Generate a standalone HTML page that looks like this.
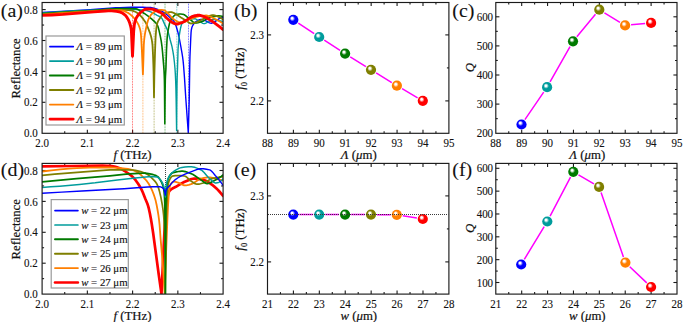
<!DOCTYPE html>
<html><head><meta charset="utf-8"><style>html,body{margin:0;padding:0;background:#fff;width:700px;height:322px;overflow:hidden}svg{display:block}</style></head>
<body>
<svg width="700" height="322" viewBox="0 0 700 322">
<defs>
<radialGradient id="g0" cx="0.46" cy="0.44" r="0.6" fx="0.37" fy="0.34"><stop offset="0" stop-color="#ffffff"/><stop offset="0.14" stop-color="#ffffff"/><stop offset="0.44" stop-color="#0000ff"/><stop offset="1" stop-color="#0000ff"/></radialGradient>
<radialGradient id="g1" cx="0.46" cy="0.44" r="0.6" fx="0.37" fy="0.34"><stop offset="0" stop-color="#ffffff"/><stop offset="0.14" stop-color="#ffffff"/><stop offset="0.44" stop-color="#009c9c"/><stop offset="1" stop-color="#009c9c"/></radialGradient>
<radialGradient id="g2" cx="0.46" cy="0.44" r="0.6" fx="0.37" fy="0.34"><stop offset="0" stop-color="#ffffff"/><stop offset="0.14" stop-color="#ffffff"/><stop offset="0.44" stop-color="#007a00"/><stop offset="1" stop-color="#007a00"/></radialGradient>
<radialGradient id="g3" cx="0.46" cy="0.44" r="0.6" fx="0.37" fy="0.34"><stop offset="0" stop-color="#ffffff"/><stop offset="0.14" stop-color="#ffffff"/><stop offset="0.44" stop-color="#7f7f00"/><stop offset="1" stop-color="#7f7f00"/></radialGradient>
<radialGradient id="g4" cx="0.46" cy="0.44" r="0.6" fx="0.37" fy="0.34"><stop offset="0" stop-color="#ffffff"/><stop offset="0.14" stop-color="#ffffff"/><stop offset="0.44" stop-color="#ff7f00"/><stop offset="1" stop-color="#ff7f00"/></radialGradient>
<radialGradient id="g5" cx="0.46" cy="0.44" r="0.6" fx="0.37" fy="0.34"><stop offset="0" stop-color="#ffffff"/><stop offset="0.14" stop-color="#ffffff"/><stop offset="0.44" stop-color="#ff0000"/><stop offset="1" stop-color="#ff0000"/></radialGradient>
<clipPath id="ca"><rect x="42.1" y="2.5" width="181" height="130.8"/></clipPath>
<clipPath id="cd"><rect x="42.1" y="163.4" width="181" height="130.7"/></clipPath>
</defs>
<style>text{font-family:"Liberation Serif",serif;fill:#111;stroke:#111;stroke-width:0.3px}.tk{font-size:12.2px;stroke-width:0.12px}.ti{font-size:12.8px;stroke-width:0.2px}.lg{font-size:10.8px;stroke-width:0.15px}.pl{font-size:18.5px;stroke-width:0.1px}</style>
<rect width="700" height="322" fill="#fff"/>
<text transform="translate(42.10,146.60) scale(0.9,1)" class="tk" text-anchor="middle">2.0</text>
<line x1="64.72" y1="133.3" x2="64.72" y2="131.30" stroke="#1a1a1a" stroke-width="1.1"/>
<line x1="64.72" y1="2.5" x2="64.72" y2="4.50" stroke="#1a1a1a" stroke-width="1.1"/>
<line x1="87.35" y1="133.3" x2="87.35" y2="129.70" stroke="#1a1a1a" stroke-width="1.1"/>
<line x1="87.35" y1="2.5" x2="87.35" y2="6.10" stroke="#1a1a1a" stroke-width="1.1"/>
<text transform="translate(87.35,146.60) scale(0.9,1)" class="tk" text-anchor="middle">2.1</text>
<line x1="109.97" y1="133.3" x2="109.97" y2="131.30" stroke="#1a1a1a" stroke-width="1.1"/>
<line x1="109.97" y1="2.5" x2="109.97" y2="4.50" stroke="#1a1a1a" stroke-width="1.1"/>
<line x1="132.60" y1="133.3" x2="132.60" y2="129.70" stroke="#1a1a1a" stroke-width="1.1"/>
<line x1="132.60" y1="2.5" x2="132.60" y2="6.10" stroke="#1a1a1a" stroke-width="1.1"/>
<text transform="translate(132.60,146.60) scale(0.9,1)" class="tk" text-anchor="middle">2.2</text>
<line x1="155.23" y1="133.3" x2="155.23" y2="131.30" stroke="#1a1a1a" stroke-width="1.1"/>
<line x1="155.23" y1="2.5" x2="155.23" y2="4.50" stroke="#1a1a1a" stroke-width="1.1"/>
<line x1="177.85" y1="133.3" x2="177.85" y2="129.70" stroke="#1a1a1a" stroke-width="1.1"/>
<line x1="177.85" y1="2.5" x2="177.85" y2="6.10" stroke="#1a1a1a" stroke-width="1.1"/>
<text transform="translate(177.85,146.60) scale(0.9,1)" class="tk" text-anchor="middle">2.3</text>
<line x1="200.48" y1="133.3" x2="200.48" y2="131.30" stroke="#1a1a1a" stroke-width="1.1"/>
<line x1="200.48" y1="2.5" x2="200.48" y2="4.50" stroke="#1a1a1a" stroke-width="1.1"/>
<text transform="translate(223.10,146.60) scale(0.9,1)" class="tk" text-anchor="middle">2.4</text>
<text transform="translate(37.80,137.30) scale(0.9,1)" class="tk" text-anchor="end">0.0</text>
<line x1="42.1" y1="117.75" x2="44.10" y2="117.75" stroke="#1a1a1a" stroke-width="1.1"/>
<line x1="223.1" y1="117.75" x2="221.10" y2="117.75" stroke="#1a1a1a" stroke-width="1.1"/>
<line x1="42.1" y1="102.30" x2="45.70" y2="102.30" stroke="#1a1a1a" stroke-width="1.1"/>
<line x1="223.1" y1="102.30" x2="219.50" y2="102.30" stroke="#1a1a1a" stroke-width="1.1"/>
<text transform="translate(37.80,106.40) scale(0.9,1)" class="tk" text-anchor="end">0.2</text>
<line x1="42.1" y1="86.85" x2="44.10" y2="86.85" stroke="#1a1a1a" stroke-width="1.1"/>
<line x1="223.1" y1="86.85" x2="221.10" y2="86.85" stroke="#1a1a1a" stroke-width="1.1"/>
<line x1="42.1" y1="71.40" x2="45.70" y2="71.40" stroke="#1a1a1a" stroke-width="1.1"/>
<line x1="223.1" y1="71.40" x2="219.50" y2="71.40" stroke="#1a1a1a" stroke-width="1.1"/>
<text transform="translate(37.80,75.50) scale(0.9,1)" class="tk" text-anchor="end">0.4</text>
<line x1="42.1" y1="55.95" x2="44.10" y2="55.95" stroke="#1a1a1a" stroke-width="1.1"/>
<line x1="223.1" y1="55.95" x2="221.10" y2="55.95" stroke="#1a1a1a" stroke-width="1.1"/>
<line x1="42.1" y1="40.50" x2="45.70" y2="40.50" stroke="#1a1a1a" stroke-width="1.1"/>
<line x1="223.1" y1="40.50" x2="219.50" y2="40.50" stroke="#1a1a1a" stroke-width="1.1"/>
<text transform="translate(37.80,44.60) scale(0.9,1)" class="tk" text-anchor="end">0.6</text>
<line x1="42.1" y1="25.05" x2="44.10" y2="25.05" stroke="#1a1a1a" stroke-width="1.1"/>
<line x1="223.1" y1="25.05" x2="221.10" y2="25.05" stroke="#1a1a1a" stroke-width="1.1"/>
<line x1="42.1" y1="9.60" x2="45.70" y2="9.60" stroke="#1a1a1a" stroke-width="1.1"/>
<line x1="223.1" y1="9.60" x2="219.50" y2="9.60" stroke="#1a1a1a" stroke-width="1.1"/>
<text transform="translate(37.80,13.70) scale(0.9,1)" class="tk" text-anchor="end">0.8</text>
<g clip-path="url(#ca)">
<line x1="188.5" y1="2.5" x2="188.5" y2="133.3" stroke="#0000ff" stroke-width="0.9" stroke-dasharray="0.8 0.8" opacity="0.7"/>
<line x1="176.8" y1="2.5" x2="176.8" y2="133.3" stroke="#009c9c" stroke-width="0.9" stroke-dasharray="0.8 0.8" opacity="0.7"/>
<line x1="165.0" y1="2.5" x2="165.0" y2="133.3" stroke="#007a00" stroke-width="0.9" stroke-dasharray="0.8 0.8" opacity="0.7"/>
<line x1="154.1" y1="2.5" x2="154.1" y2="133.3" stroke="#7f7f00" stroke-width="0.9" stroke-dasharray="0.8 0.8" opacity="0.7"/>
<line x1="142.9" y1="2.5" x2="142.9" y2="133.3" stroke="#ff7f00" stroke-width="0.9" stroke-dasharray="0.8 0.8" opacity="0.7"/>
<line x1="132.5" y1="2.5" x2="132.5" y2="133.3" stroke="#ff0000" stroke-width="0.9" stroke-dasharray="0.8 0.8" opacity="0.7"/>
<path d="M42.10,12.39 L64.80,11.15 L90.10,9.62 L96.35,9.20 L109.70,8.15 L115.75,7.78 L119.85,7.60 L131.15,7.30 L137.55,7.21 L142.55,7.22 L146.80,7.35 L150.65,7.55 L152.60,7.87 L154.80,8.44 L158.45,9.66 L160.70,10.66 L162.20,11.47 L163.85,12.48 L165.60,13.64 L166.70,14.49 L170.25,17.73 L172.05,19.28 L172.85,20.06 L173.50,20.82 L174.10,21.65 L175.00,23.38 L175.70,25.12 L176.45,27.28 L177.35,30.17 L177.95,32.38 L179.20,37.97 L180.80,46.39 L181.95,52.79 L182.55,56.58 L183.10,60.87 L183.55,65.52 L184.45,77.08 L185.75,97.73 L188.30,133.20 L189.25,99.35 L189.75,65.03 L189.95,56.70 L190.75,38.32 L191.05,32.64 L191.30,30.00 L191.85,27.61 L192.35,26.23 L193.00,25.00 L193.90,23.59 L194.80,22.50 L195.65,21.74 L196.75,21.04 L198.15,20.27 L199.35,19.78 L200.20,19.57 L201.00,19.50 L201.80,19.56 L202.70,19.77 L203.75,20.12 L206.45,21.18 L208.90,22.54 L209.70,22.92 L210.55,23.16 L211.30,23.19 L211.95,23.07 L212.60,22.86 L214.20,22.05 L216.45,20.72 L218.70,18.93 L219.65,18.34 L221.60,17.72 L222.40,17.56 L223.10,17.50" fill="none" stroke="#0000ff" stroke-width="1.4" stroke-linejoin="round" stroke-linecap="round" />
<path d="M42.10,12.99 L54.00,12.10 L64.95,11.37 L75.30,10.79 L85.15,10.34 L102.60,9.78 L115.80,9.45 L127.70,9.30 L133.95,9.38 L139.05,9.70 L144.75,10.27 L146.45,10.55 L148.35,11.06 L150.60,11.82 L152.45,12.68 L157.15,15.38 L159.75,16.72 L160.55,17.23 L161.25,17.78 L161.95,18.49 L162.60,19.61 L164.45,23.89 L166.95,28.90 L168.05,31.73 L168.70,34.01 L170.20,40.00 L171.45,44.49 L172.00,46.70 L172.95,51.57 L173.70,56.41 L174.40,62.29 L175.00,68.80 L175.35,74.17 L175.65,80.83 L175.90,88.42 L176.10,97.61 L176.60,130.50 L176.75,105.69 L177.00,84.86 L177.15,78.15 L177.50,68.80 L178.05,49.54 L178.65,41.30 L179.35,35.06 L179.85,31.91 L180.60,27.98 L181.10,25.86 L181.60,24.32 L182.15,23.23 L182.70,22.35 L183.30,21.60 L183.90,21.07 L185.30,20.21 L186.60,19.59 L187.85,19.18 L189.00,19.00 L193.80,18.81 L194.85,18.81 L195.45,18.92 L196.00,19.14 L196.65,19.50 L202.15,23.02 L203.00,23.41 L203.80,23.59 L204.75,23.51 L205.85,23.14 L209.50,21.25 L211.70,19.96 L212.40,19.66 L213.05,19.51 L213.80,19.52 L214.65,19.64 L217.85,20.47 L223.10,21.48" fill="none" stroke="#009c9c" stroke-width="1.4" stroke-linejoin="round" stroke-linecap="round" />
<path d="M42.10,13.59 L66.10,12.15 L92.45,10.47 L108.05,9.15 L113.80,8.77 L117.60,8.63 L121.40,8.60 L129.20,8.66 L136.05,8.80 L136.95,8.99 L137.95,9.45 L140.40,11.06 L144.30,13.45 L146.40,14.87 L148.50,16.40 L150.30,17.80 L151.85,19.12 L154.80,21.89 L155.90,23.08 L157.10,24.79 L157.55,25.60 L157.90,26.42 L158.35,27.80 L158.90,29.87 L160.35,36.33 L161.20,40.92 L161.90,45.78 L162.55,52.08 L163.75,66.37 L164.00,70.12 L164.25,75.57 L164.40,80.00 L164.50,86.21 L164.80,123.80 L165.10,91.97 L165.30,80.00 L165.45,76.26 L165.90,68.80 L166.45,51.21 L167.00,40.17 L167.25,36.59 L167.55,33.77 L167.85,31.86 L168.95,25.96 L169.40,23.88 L169.75,22.64 L170.40,20.99 L171.05,19.65 L171.75,18.49 L172.50,17.50 L173.90,15.92 L174.95,15.00 L175.50,14.67 L176.00,14.50 L177.65,14.19 L179.15,14.03 L180.65,14.02 L182.35,14.20 L183.40,14.39 L184.30,14.78 L185.55,15.63 L188.15,17.85 L189.70,19.03 L193.05,21.96 L194.25,22.70 L194.80,22.90 L195.35,23.00 L196.60,22.93 L198.05,22.68 L199.60,22.26 L202.30,21.40 L203.95,20.65 L207.40,18.63 L208.85,17.91 L209.90,17.53 L213.30,16.65 L216.10,16.11 L218.50,15.90 L220.65,16.02 L223.10,16.48" fill="none" stroke="#007a00" stroke-width="1.6" stroke-linejoin="round" stroke-linecap="round" />
<path d="M42.10,14.19 L60.10,12.88 L78.05,11.76 L107.30,10.16 L112.75,9.93 L117.55,9.82 L121.10,9.81 L124.35,9.88 L128.25,10.08 L130.80,10.29 L132.40,10.67 L134.15,11.29 L136.20,12.20 L137.40,12.96 L138.35,13.73 L139.45,14.75 L141.05,16.36 L142.00,17.42 L143.10,18.82 L144.25,20.42 L145.15,21.78 L145.95,23.14 L146.95,25.21 L149.75,32.31 L151.00,36.33 L151.65,39.04 L152.15,42.05 L152.50,45.05 L153.00,54.86 L153.35,64.33 L153.60,73.52 L154.00,97.30 L154.35,75.73 L155.10,49.78 L155.60,37.22 L156.05,31.12 L156.40,27.79 L156.75,25.35 L157.00,24.20 L157.55,22.46 L158.10,21.12 L158.75,19.89 L160.85,16.70 L161.65,15.65 L162.65,14.74 L163.80,13.86 L164.75,13.28 L165.65,12.90 L167.65,12.45 L169.45,12.18 L171.10,12.10 L172.05,12.25 L173.50,12.83 L176.75,14.62 L180.95,17.47 L186.70,20.99 L189.25,22.87 L190.10,23.32 L190.85,23.49 L191.95,23.45 L193.25,23.23 L196.05,22.49 L196.95,22.18 L198.80,21.32 L203.00,18.97 L208.25,16.48 L210.35,15.66 L211.30,15.40 L212.15,15.25 L213.35,15.21 L214.65,15.40 L216.05,15.80 L218.30,16.61 L219.35,17.10 L220.50,17.76 L221.75,18.60 L223.10,19.62" fill="none" stroke="#7f7f00" stroke-width="1.8" stroke-linejoin="round" stroke-linecap="round" />
<path d="M42.10,14.79 L59.55,13.47 L76.90,12.34 L106.35,10.70 L116.20,10.34 L120.30,10.31 L121.25,10.39 L122.20,10.56 L123.50,10.92 L124.90,11.44 L126.65,12.21 L128.55,13.14 L129.35,13.68 L130.20,14.36 L132.95,16.92 L134.65,18.75 L136.15,20.69 L137.50,22.86 L138.80,25.47 L139.60,27.56 L140.25,29.87 L140.60,31.66 L140.85,33.41 L141.25,38.80 L141.90,50.97 L142.90,74.40 L143.40,60.00 L143.80,45.00 L144.05,41.35 L144.30,38.74 L144.85,34.65 L145.20,32.51 L146.40,26.66 L147.20,23.17 L147.85,20.89 L148.60,19.00 L149.75,16.69 L150.90,14.97 L151.65,14.12 L152.55,13.24 L153.40,12.53 L154.25,11.93 L155.20,11.39 L157.20,10.51 L158.35,10.10 L159.35,9.87 L160.20,9.80 L161.65,9.87 L163.35,10.09 L164.40,10.32 L165.15,10.76 L166.05,11.54 L169.00,14.48 L172.05,17.83 L173.35,19.03 L175.55,20.51 L177.00,21.38 L178.20,21.94 L179.30,22.24 L180.15,22.30 L181.85,22.22 L184.05,21.99 L184.85,21.81 L186.20,21.24 L188.75,19.80 L189.80,19.28 L194.05,17.62 L196.80,16.76 L199.55,16.22 L202.35,15.77 L204.40,15.56 L206.20,15.50 L207.15,15.61 L208.15,15.85 L209.25,16.23 L210.50,16.79 L217.65,20.29 L220.30,21.79 L223.10,23.54" fill="none" stroke="#ff7f00" stroke-width="1.8" stroke-linejoin="round" stroke-linecap="round" />
<path d="M42.10,15.40 L52.05,15.02 L62.95,14.41 L94.00,11.84 L105.30,10.99 L108.20,10.83 L110.15,10.80 L111.75,10.86 L116.40,11.35 L117.85,11.59 L119.20,11.88 L120.35,12.21 L121.35,12.60 L123.05,13.53 L124.80,14.80 L125.75,15.74 L126.75,17.06 L128.05,19.21 L128.95,21.06 L129.80,23.35 L130.65,26.26 L131.15,28.85 L131.35,30.51 L131.45,31.98 L132.50,56.20 L133.70,31.00 L134.30,25.14 L134.65,22.92 L135.00,21.43 L135.65,19.43 L136.40,17.75 L137.60,15.80 L138.85,14.15 L140.35,12.63 L142.90,10.62 L144.35,9.66 L145.55,9.14 L146.35,9.00 L148.20,9.02 L151.75,9.17 L153.00,9.31 L153.85,9.54 L154.85,9.92 L159.50,12.08 L161.35,13.08 L162.70,14.03 L163.75,15.00 L166.65,17.98 L169.40,20.44 L170.80,21.56 L171.80,22.19 L174.05,23.35 L175.10,23.76 L176.05,23.97 L177.25,23.96 L178.65,23.71 L180.30,23.20 L182.75,22.30 L184.20,21.53 L187.30,19.62 L190.55,17.40 L191.30,16.99 L192.00,16.70 L195.00,15.75 L197.15,15.30 L198.10,15.21 L199.00,15.21 L199.85,15.31 L200.80,15.52 L204.10,16.64 L205.45,17.22 L207.25,18.20 L210.90,20.46 L213.75,22.38 L217.10,24.82 L220.10,27.18 L223.10,29.71" fill="none" stroke="#ff0000" stroke-width="2.9" stroke-linejoin="round" stroke-linecap="round" />
</g>
<rect x="42.1" y="2.5" width="181.00" height="130.80" fill="none" stroke="#1a1a1a" stroke-width="1.15"/>
<rect x="46" y="36" width="78.3" height="89" fill="#fff" stroke="#999" stroke-width="1.2"/>
<line x1="49.9" y1="46.60" x2="73.3" y2="46.60" stroke="#0000ff" stroke-width="1.7" stroke-linecap="round"/>
<text x="76.5" y="50.30" class="lg"><tspan font-style="italic">Λ</tspan> = 89 μm</text>
<line x1="49.9" y1="61.10" x2="73.3" y2="61.10" stroke="#009c9c" stroke-width="1.7" stroke-linecap="round"/>
<text x="76.5" y="64.80" class="lg"><tspan font-style="italic">Λ</tspan> = 90 μm</text>
<line x1="49.9" y1="75.60" x2="73.3" y2="75.60" stroke="#007a00" stroke-width="2.0" stroke-linecap="round"/>
<text x="76.5" y="79.30" class="lg"><tspan font-style="italic">Λ</tspan> = 91 μm</text>
<line x1="49.9" y1="90.10" x2="73.3" y2="90.10" stroke="#7f7f00" stroke-width="2.0" stroke-linecap="round"/>
<text x="76.5" y="93.80" class="lg"><tspan font-style="italic">Λ</tspan> = 92 μm</text>
<line x1="49.9" y1="104.60" x2="73.3" y2="104.60" stroke="#ff7f00" stroke-width="1.9" stroke-linecap="round"/>
<text x="76.5" y="108.30" class="lg"><tspan font-style="italic">Λ</tspan> = 93 μm</text>
<line x1="49.9" y1="119.10" x2="73.3" y2="119.10" stroke="#ff0000" stroke-width="2.6" stroke-linecap="round"/>
<text x="76.5" y="122.80" class="lg"><tspan font-style="italic">Λ</tspan> = 94 μm</text>
<text transform="translate(19.6,68.4) rotate(-90)" class="ti" text-anchor="middle">Reflectance</text>
<text x="132.5" y="158.8" class="ti" text-anchor="middle"><tspan font-style="italic">f</tspan> (THz)</text>
<text transform="translate(0.8,17.3) scale(1.08,1)" class="pl">(a)</text>
<text transform="translate(42.10,307.50) scale(0.9,1)" class="tk" text-anchor="middle">2.0</text>
<line x1="64.72" y1="294.1" x2="64.72" y2="292.10" stroke="#1a1a1a" stroke-width="1.1"/>
<line x1="64.72" y1="163.4" x2="64.72" y2="165.40" stroke="#1a1a1a" stroke-width="1.1"/>
<line x1="87.35" y1="294.1" x2="87.35" y2="290.50" stroke="#1a1a1a" stroke-width="1.1"/>
<line x1="87.35" y1="163.4" x2="87.35" y2="167.00" stroke="#1a1a1a" stroke-width="1.1"/>
<text transform="translate(87.35,307.50) scale(0.9,1)" class="tk" text-anchor="middle">2.1</text>
<line x1="109.97" y1="294.1" x2="109.97" y2="292.10" stroke="#1a1a1a" stroke-width="1.1"/>
<line x1="109.97" y1="163.4" x2="109.97" y2="165.40" stroke="#1a1a1a" stroke-width="1.1"/>
<line x1="132.60" y1="294.1" x2="132.60" y2="290.50" stroke="#1a1a1a" stroke-width="1.1"/>
<line x1="132.60" y1="163.4" x2="132.60" y2="167.00" stroke="#1a1a1a" stroke-width="1.1"/>
<text transform="translate(132.60,307.50) scale(0.9,1)" class="tk" text-anchor="middle">2.2</text>
<line x1="155.23" y1="294.1" x2="155.23" y2="292.10" stroke="#1a1a1a" stroke-width="1.1"/>
<line x1="155.23" y1="163.4" x2="155.23" y2="165.40" stroke="#1a1a1a" stroke-width="1.1"/>
<line x1="177.85" y1="294.1" x2="177.85" y2="290.50" stroke="#1a1a1a" stroke-width="1.1"/>
<line x1="177.85" y1="163.4" x2="177.85" y2="167.00" stroke="#1a1a1a" stroke-width="1.1"/>
<text transform="translate(177.85,307.50) scale(0.9,1)" class="tk" text-anchor="middle">2.3</text>
<line x1="200.48" y1="294.1" x2="200.48" y2="292.10" stroke="#1a1a1a" stroke-width="1.1"/>
<line x1="200.48" y1="163.4" x2="200.48" y2="165.40" stroke="#1a1a1a" stroke-width="1.1"/>
<text transform="translate(223.10,307.50) scale(0.9,1)" class="tk" text-anchor="middle">2.4</text>
<text transform="translate(37.80,298.20) scale(0.9,1)" class="tk" text-anchor="end">0.0</text>
<line x1="42.1" y1="278.65" x2="44.10" y2="278.65" stroke="#1a1a1a" stroke-width="1.1"/>
<line x1="223.1" y1="278.65" x2="221.10" y2="278.65" stroke="#1a1a1a" stroke-width="1.1"/>
<line x1="42.1" y1="263.20" x2="45.70" y2="263.20" stroke="#1a1a1a" stroke-width="1.1"/>
<line x1="223.1" y1="263.20" x2="219.50" y2="263.20" stroke="#1a1a1a" stroke-width="1.1"/>
<text transform="translate(37.80,267.30) scale(0.9,1)" class="tk" text-anchor="end">0.2</text>
<line x1="42.1" y1="247.75" x2="44.10" y2="247.75" stroke="#1a1a1a" stroke-width="1.1"/>
<line x1="223.1" y1="247.75" x2="221.10" y2="247.75" stroke="#1a1a1a" stroke-width="1.1"/>
<line x1="42.1" y1="232.30" x2="45.70" y2="232.30" stroke="#1a1a1a" stroke-width="1.1"/>
<line x1="223.1" y1="232.30" x2="219.50" y2="232.30" stroke="#1a1a1a" stroke-width="1.1"/>
<text transform="translate(37.80,236.40) scale(0.9,1)" class="tk" text-anchor="end">0.4</text>
<line x1="42.1" y1="216.85" x2="44.10" y2="216.85" stroke="#1a1a1a" stroke-width="1.1"/>
<line x1="223.1" y1="216.85" x2="221.10" y2="216.85" stroke="#1a1a1a" stroke-width="1.1"/>
<line x1="42.1" y1="201.40" x2="45.70" y2="201.40" stroke="#1a1a1a" stroke-width="1.1"/>
<line x1="223.1" y1="201.40" x2="219.50" y2="201.40" stroke="#1a1a1a" stroke-width="1.1"/>
<text transform="translate(37.80,205.50) scale(0.9,1)" class="tk" text-anchor="end">0.6</text>
<line x1="42.1" y1="185.95" x2="44.10" y2="185.95" stroke="#1a1a1a" stroke-width="1.1"/>
<line x1="223.1" y1="185.95" x2="221.10" y2="185.95" stroke="#1a1a1a" stroke-width="1.1"/>
<line x1="42.1" y1="170.50" x2="45.70" y2="170.50" stroke="#1a1a1a" stroke-width="1.1"/>
<line x1="223.1" y1="170.50" x2="219.50" y2="170.50" stroke="#1a1a1a" stroke-width="1.1"/>
<text transform="translate(37.80,174.60) scale(0.9,1)" class="tk" text-anchor="end">0.8</text>
<g clip-path="url(#cd)">
<line x1="165.5" y1="164" x2="165.5" y2="294.1" stroke="#444" stroke-width="1" stroke-dasharray="1 1"/>
<path d="M42.10,166.40 L71.50,165.98 L102.70,165.70 L107.15,165.76 L109.25,165.91 L111.60,166.17 L114.50,166.58 L116.35,167.03 L119.00,167.98 L120.70,168.69 L121.75,169.20 L124.30,170.75 L130.00,174.71 L132.00,176.29 L133.65,177.86 L135.60,180.21 L137.95,183.53 L139.90,186.57 L141.55,189.60 L142.75,192.29 L145.40,199.00 L147.30,203.49 L148.10,205.83 L148.80,208.46 L149.90,213.51 L150.80,218.24 L151.80,224.22 L153.10,232.67 L158.70,274.21 L161.50,294.00 L163.30,255.00 L164.95,221.26 L165.25,215.77 L165.70,209.38 L166.25,203.41 L166.70,200.09 L167.15,197.48 L167.50,196.00 L168.20,193.77 L168.80,192.23 L169.40,191.07 L169.80,190.51 L170.35,189.96 L171.05,189.37 L171.85,188.82 L172.90,188.25 L175.85,186.84 L181.50,183.38 L184.15,181.98 L189.10,179.89 L190.45,179.40 L191.70,179.02 L192.90,178.76 L194.05,178.62 L195.25,178.61 L196.75,178.70 L198.35,178.88 L200.05,179.17 L204.10,180.09 L205.10,180.46 L206.20,180.96 L208.65,182.40 L212.95,185.43 L214.45,186.64 L215.95,187.98 L217.65,189.64 L219.40,191.50 L221.20,193.56 L223.10,195.87" fill="none" stroke="#ff0000" stroke-width="2.7" stroke-linejoin="round" stroke-linecap="round" />
<path d="M42.10,171.49 L51.55,170.35 L60.40,169.43 L68.80,168.71 L76.90,168.17 L83.40,167.87 L89.75,167.70 L105.20,167.51 L110.50,167.50 L113.30,167.56 L118.70,167.89 L125.30,168.53 L127.90,168.97 L130.90,169.69 L132.75,170.22 L134.30,170.76 L135.80,171.38 L137.25,172.09 L138.25,172.65 L139.05,173.22 L140.00,174.02 L141.15,175.13 L145.00,179.02 L146.90,181.21 L147.80,182.43 L148.70,183.81 L150.60,187.19 L151.55,189.16 L152.55,191.48 L153.60,194.16 L154.50,196.68 L155.65,200.58 L156.75,205.55 L157.70,210.75 L158.45,215.44 L159.05,219.93 L159.55,224.54 L160.65,239.38 L161.95,254.39 L163.05,268.51 L163.80,279.75 L164.60,294.00 L166.15,251.08 L167.45,218.40 L168.05,205.81 L168.55,197.94 L169.10,191.58 L169.35,189.67 L169.80,187.00 L170.15,185.44 L170.45,184.59 L171.35,183.26 L172.25,182.32 L172.70,182.00 L173.10,181.81 L173.50,181.71 L173.95,181.70 L175.65,181.92 L178.10,182.51 L179.35,183.07 L182.30,184.70 L183.75,185.26 L184.45,185.38 L185.15,185.39 L186.20,185.31 L187.30,185.14 L188.80,184.80 L191.05,184.19 L192.35,183.68 L194.05,182.69 L198.10,179.90 L199.15,179.30 L200.10,178.87 L200.95,178.61 L204.05,177.97 L206.00,177.66 L207.75,177.47 L209.85,177.40 L211.45,177.60 L212.90,177.96 L216.75,179.12 L223.10,180.48" fill="none" stroke="#ff7f00" stroke-width="1.8" stroke-linejoin="round" stroke-linecap="round" />
<path d="M42.10,175.39 L54.75,174.22 L67.60,173.12 L106.30,170.11 L110.15,169.90 L113.65,169.81 L130.30,169.80 L132.70,169.98 L135.45,170.44 L140.60,171.65 L143.25,172.46 L145.55,173.39 L147.65,174.46 L149.10,175.51 L150.90,177.13 L154.15,180.33 L155.70,182.16 L156.45,183.26 L156.95,184.13 L157.50,185.33 L158.10,186.87 L158.75,188.76 L159.30,190.67 L160.85,197.15 L162.25,204.54 L163.10,210.40 L163.65,215.50 L164.10,221.57 L164.45,228.75 L164.75,238.07 L164.95,247.33 L165.10,258.88 L165.30,294.00 L165.50,270.00 L165.85,243.07 L166.25,221.98 L166.70,207.57 L167.25,194.37 L167.45,191.39 L167.80,187.66 L168.10,185.22 L168.45,183.22 L169.00,181.24 L169.65,179.65 L170.55,178.07 L171.25,177.03 L171.85,176.39 L172.35,176.11 L175.20,175.67 L178.25,175.50 L181.05,175.61 L184.20,176.00 L185.25,176.22 L186.25,176.78 L187.25,177.62 L189.40,179.78 L190.30,180.60 L194.00,183.07 L195.05,183.64 L196.00,184.01 L196.85,184.18 L197.75,184.19 L199.00,184.06 L200.40,183.79 L203.45,182.99 L204.20,182.73 L205.90,181.90 L209.90,179.50 L210.90,179.01 L211.85,178.67 L215.45,177.80 L218.25,177.25 L220.80,176.91 L223.10,176.80" fill="none" stroke="#7f7f00" stroke-width="1.7" stroke-linejoin="round" stroke-linecap="round" />
<path d="M42.10,181.79 L76.60,178.67 L109.90,175.81 L126.10,174.08 L129.65,173.82 L138.40,173.36 L142.10,173.23 L145.30,173.20 L146.85,173.31 L148.55,173.56 L152.35,174.38 L154.35,174.97 L155.40,175.38 L156.40,175.86 L157.50,176.50 L158.00,176.89 L158.55,177.46 L159.15,178.22 L160.45,180.27 L161.75,182.67 L162.65,184.89 L163.30,187.08 L163.75,189.26 L164.10,191.87 L164.40,195.64 L164.65,200.77 L164.85,206.94 L165.05,221.82 L165.25,249.28 L165.40,294.00 L165.65,231.96 L165.85,208.24 L166.05,198.45 L166.35,191.14 L166.60,187.58 L166.85,185.08 L167.20,182.81 L167.65,180.62 L168.10,179.01 L168.60,177.79 L169.55,176.00 L170.50,174.58 L171.40,173.61 L171.85,173.28 L172.30,173.04 L175.35,172.10 L178.35,171.49 L179.95,171.30 L181.55,171.21 L182.80,171.21 L183.95,171.33 L185.55,171.67 L187.35,172.22 L191.20,173.68 L192.60,174.33 L194.95,175.74 L199.40,178.85 L201.40,180.16 L204.05,182.22 L204.95,182.85 L205.60,183.21 L206.20,183.45 L206.80,183.58 L207.35,183.59 L208.50,183.39 L209.75,182.93 L215.45,179.99 L217.35,178.90 L219.25,177.71 L221.15,176.41 L223.10,174.98" fill="none" stroke="#007a00" stroke-width="1.7" stroke-linejoin="round" stroke-linecap="round" />
<path d="M42.10,187.39 L50.70,186.84 L59.70,186.17 L79.45,184.44 L95.10,182.84 L117.35,180.02 L135.25,177.96 L148.40,176.73 L151.75,176.60 L154.40,176.70 L157.10,177.02 L157.55,177.18 L158.05,177.50 L159.00,178.37 L160.75,180.31 L161.55,181.38 L162.30,182.62 L162.85,183.75 L163.40,185.19 L163.90,186.83 L164.30,188.47 L164.95,192.38 L165.40,197.00 L165.80,192.00 L166.15,186.48 L166.40,184.58 L166.75,182.65 L167.15,181.07 L167.75,179.32 L168.40,177.86 L169.20,176.47 L170.50,174.52 L171.40,173.37 L172.25,172.52 L174.45,170.88 L176.50,169.56 L178.40,168.56 L180.20,167.86 L181.95,167.45 L185.05,167.10 L188.45,166.86 L191.45,166.81 L192.95,166.96 L194.55,167.30 L196.25,167.84 L198.20,168.61 L201.20,170.00 L202.45,170.87 L204.10,172.50 L207.50,176.49 L208.95,178.02 L213.15,181.81 L214.20,182.53 L215.15,182.92 L216.00,183.00 L217.20,182.87 L218.25,182.58 L219.30,182.12 L220.30,181.50 L221.25,180.74 L222.20,179.79 L223.10,178.73" fill="none" stroke="#009c9c" stroke-width="1.5" stroke-linejoin="round" stroke-linecap="round" />
<path d="M42.10,193.29 L61.75,192.09 L81.95,190.94 L119.05,189.06 L124.25,188.71 L136.75,187.71 L147.70,187.03 L153.15,186.82 L160.05,186.80 L160.55,186.86 L161.05,187.02 L162.30,187.67 L163.00,188.21 L163.65,189.02 L164.20,190.00 L164.50,190.82 L164.90,192.46 L165.40,195.00 L165.70,192.21 L165.90,191.00 L166.35,189.70 L166.90,188.70 L168.00,187.26 L170.10,185.18 L172.30,182.40 L174.15,180.66 L176.10,179.07 L178.00,177.77 L180.25,176.46 L182.85,175.14 L185.65,173.88 L196.65,169.56 L198.75,168.96 L200.60,168.71 L203.40,168.80 L206.45,169.21 L209.70,169.93 L210.25,170.16 L210.85,170.53 L211.65,171.21 L212.55,172.16 L215.25,175.46 L218.00,178.66 L220.55,181.88 L223.10,185.36" fill="none" stroke="#0000ff" stroke-width="1.4" stroke-linejoin="round" stroke-linecap="round" />
</g>
<rect x="42.1" y="163.4" width="181.00" height="130.70" fill="none" stroke="#1a1a1a" stroke-width="1.15"/>
<rect x="51.2" y="199.6" width="77.1" height="88.4" fill="#fff" stroke="#999" stroke-width="1.2"/>
<line x1="55.0" y1="210.60" x2="77.9" y2="210.60" stroke="#0000ff" stroke-width="1.7" stroke-linecap="round"/>
<text x="81.2" y="214.30" class="lg"><tspan font-style="italic">w</tspan> = 22 μm</text>
<line x1="55.0" y1="224.98" x2="77.9" y2="224.98" stroke="#009c9c" stroke-width="1.7" stroke-linecap="round"/>
<text x="81.2" y="228.68" class="lg"><tspan font-style="italic">w</tspan> = 23 μm</text>
<line x1="55.0" y1="239.36" x2="77.9" y2="239.36" stroke="#007a00" stroke-width="2.0" stroke-linecap="round"/>
<text x="81.2" y="243.06" class="lg"><tspan font-style="italic">w</tspan> = 24 μm</text>
<line x1="55.0" y1="253.74" x2="77.9" y2="253.74" stroke="#7f7f00" stroke-width="2.0" stroke-linecap="round"/>
<text x="81.2" y="257.44" class="lg"><tspan font-style="italic">w</tspan> = 25 μm</text>
<line x1="55.0" y1="268.12" x2="77.9" y2="268.12" stroke="#ff7f00" stroke-width="1.9" stroke-linecap="round"/>
<text x="81.2" y="271.82" class="lg"><tspan font-style="italic">w</tspan> = 26 μm</text>
<line x1="55.0" y1="282.50" x2="77.9" y2="282.50" stroke="#ff0000" stroke-width="2.6" stroke-linecap="round"/>
<text x="81.2" y="286.20" class="lg"><tspan font-style="italic">w</tspan> = 27 μm</text>
<text transform="translate(19.6,229.3) rotate(-90)" class="ti" text-anchor="middle">Reflectance</text>
<text x="132.5" y="319.7" class="ti" text-anchor="middle"><tspan font-style="italic">f</tspan> (THz)</text>
<text transform="translate(0.8,175.6) scale(1.08,1)" class="pl">(d)</text>
<rect x="267.5" y="2.5" width="181.40" height="130.80" fill="none" stroke="#1a1a1a" stroke-width="1.15"/>
<text transform="translate(267.50,146.60) scale(0.9,1)" class="tk" text-anchor="middle">88</text>
<line x1="280.46" y1="133.3" x2="280.46" y2="131.30" stroke="#1a1a1a" stroke-width="1.1"/>
<line x1="280.46" y1="2.5" x2="280.46" y2="4.50" stroke="#1a1a1a" stroke-width="1.1"/>
<line x1="293.41" y1="133.3" x2="293.41" y2="129.70" stroke="#1a1a1a" stroke-width="1.1"/>
<line x1="293.41" y1="2.5" x2="293.41" y2="6.10" stroke="#1a1a1a" stroke-width="1.1"/>
<text transform="translate(293.41,146.60) scale(0.9,1)" class="tk" text-anchor="middle">89</text>
<line x1="306.37" y1="133.3" x2="306.37" y2="131.30" stroke="#1a1a1a" stroke-width="1.1"/>
<line x1="306.37" y1="2.5" x2="306.37" y2="4.50" stroke="#1a1a1a" stroke-width="1.1"/>
<line x1="319.33" y1="133.3" x2="319.33" y2="129.70" stroke="#1a1a1a" stroke-width="1.1"/>
<line x1="319.33" y1="2.5" x2="319.33" y2="6.10" stroke="#1a1a1a" stroke-width="1.1"/>
<text transform="translate(319.33,146.60) scale(0.9,1)" class="tk" text-anchor="middle">90</text>
<line x1="332.29" y1="133.3" x2="332.29" y2="131.30" stroke="#1a1a1a" stroke-width="1.1"/>
<line x1="332.29" y1="2.5" x2="332.29" y2="4.50" stroke="#1a1a1a" stroke-width="1.1"/>
<line x1="345.24" y1="133.3" x2="345.24" y2="129.70" stroke="#1a1a1a" stroke-width="1.1"/>
<line x1="345.24" y1="2.5" x2="345.24" y2="6.10" stroke="#1a1a1a" stroke-width="1.1"/>
<text transform="translate(345.24,146.60) scale(0.9,1)" class="tk" text-anchor="middle">91</text>
<line x1="358.20" y1="133.3" x2="358.20" y2="131.30" stroke="#1a1a1a" stroke-width="1.1"/>
<line x1="358.20" y1="2.5" x2="358.20" y2="4.50" stroke="#1a1a1a" stroke-width="1.1"/>
<line x1="371.16" y1="133.3" x2="371.16" y2="129.70" stroke="#1a1a1a" stroke-width="1.1"/>
<line x1="371.16" y1="2.5" x2="371.16" y2="6.10" stroke="#1a1a1a" stroke-width="1.1"/>
<text transform="translate(371.16,146.60) scale(0.9,1)" class="tk" text-anchor="middle">92</text>
<line x1="384.11" y1="133.3" x2="384.11" y2="131.30" stroke="#1a1a1a" stroke-width="1.1"/>
<line x1="384.11" y1="2.5" x2="384.11" y2="4.50" stroke="#1a1a1a" stroke-width="1.1"/>
<line x1="397.07" y1="133.3" x2="397.07" y2="129.70" stroke="#1a1a1a" stroke-width="1.1"/>
<line x1="397.07" y1="2.5" x2="397.07" y2="6.10" stroke="#1a1a1a" stroke-width="1.1"/>
<text transform="translate(397.07,146.60) scale(0.9,1)" class="tk" text-anchor="middle">93</text>
<line x1="410.03" y1="133.3" x2="410.03" y2="131.30" stroke="#1a1a1a" stroke-width="1.1"/>
<line x1="410.03" y1="2.5" x2="410.03" y2="4.50" stroke="#1a1a1a" stroke-width="1.1"/>
<line x1="422.99" y1="133.3" x2="422.99" y2="129.70" stroke="#1a1a1a" stroke-width="1.1"/>
<line x1="422.99" y1="2.5" x2="422.99" y2="6.10" stroke="#1a1a1a" stroke-width="1.1"/>
<text transform="translate(422.99,146.60) scale(0.9,1)" class="tk" text-anchor="middle">94</text>
<line x1="435.94" y1="133.3" x2="435.94" y2="131.30" stroke="#1a1a1a" stroke-width="1.1"/>
<line x1="435.94" y1="2.5" x2="435.94" y2="4.50" stroke="#1a1a1a" stroke-width="1.1"/>
<text transform="translate(448.90,146.60) scale(0.9,1)" class="tk" text-anchor="middle">95</text>
<line x1="267.5" y1="100.90" x2="271.10" y2="100.90" stroke="#1a1a1a" stroke-width="1.1"/>
<line x1="448.9" y1="100.90" x2="445.30" y2="100.90" stroke="#1a1a1a" stroke-width="1.1"/>
<text transform="translate(264.00,105.00) scale(0.9,1)" class="tk" text-anchor="end">2.2</text>
<line x1="267.5" y1="67.90" x2="269.50" y2="67.90" stroke="#1a1a1a" stroke-width="1.1"/>
<line x1="448.9" y1="67.90" x2="446.90" y2="67.90" stroke="#1a1a1a" stroke-width="1.1"/>
<line x1="267.5" y1="34.90" x2="271.10" y2="34.90" stroke="#1a1a1a" stroke-width="1.1"/>
<line x1="448.9" y1="34.90" x2="445.30" y2="34.90" stroke="#1a1a1a" stroke-width="1.1"/>
<text transform="translate(264.00,39.00) scale(0.9,1)" class="tk" text-anchor="end">2.3</text>
<path d="M298.30,23.12 L314.20,33.68 M324.25,40.24 L340.05,50.36 M350.19,56.78 L365.91,66.62 M376.11,72.94 L391.79,82.56 M402.08,88.72 L417.62,97.78" fill="none" stroke="#ff00ff" stroke-width="1.5"/>
<circle cx="293.3" cy="19.8" r="5.1" fill="url(#g0)"/>
<circle cx="319.2" cy="37.0" r="5.1" fill="url(#g1)"/>
<circle cx="345.1" cy="53.6" r="5.1" fill="url(#g2)"/>
<circle cx="371.0" cy="69.8" r="5.1" fill="url(#g3)"/>
<circle cx="396.9" cy="85.7" r="5.1" fill="url(#g4)"/>
<circle cx="422.8" cy="100.8" r="5.1" fill="url(#g5)"/>
<text transform="translate(244.2,68.6) rotate(-90)" class="ti" text-anchor="middle"><tspan font-style="italic">f</tspan><tspan font-size="8.5" dy="2.5">0</tspan><tspan dy="-2.5"> (THz)</tspan></text>
<text x="358.8" y="159" class="ti" text-anchor="middle"><tspan font-style="italic">Λ</tspan> (<tspan font-style="italic">μ</tspan>m)</text>
<text transform="translate(234,17.3) scale(1.08,1)" class="pl">(b)</text>
<rect x="495.8" y="2.5" width="181.20" height="130.80" fill="none" stroke="#1a1a1a" stroke-width="1.15"/>
<text transform="translate(495.80,146.60) scale(0.9,1)" class="tk" text-anchor="middle">88</text>
<line x1="508.74" y1="133.3" x2="508.74" y2="131.30" stroke="#1a1a1a" stroke-width="1.1"/>
<line x1="508.74" y1="2.5" x2="508.74" y2="4.50" stroke="#1a1a1a" stroke-width="1.1"/>
<line x1="521.69" y1="133.3" x2="521.69" y2="129.70" stroke="#1a1a1a" stroke-width="1.1"/>
<line x1="521.69" y1="2.5" x2="521.69" y2="6.10" stroke="#1a1a1a" stroke-width="1.1"/>
<text transform="translate(521.69,146.60) scale(0.9,1)" class="tk" text-anchor="middle">89</text>
<line x1="534.63" y1="133.3" x2="534.63" y2="131.30" stroke="#1a1a1a" stroke-width="1.1"/>
<line x1="534.63" y1="2.5" x2="534.63" y2="4.50" stroke="#1a1a1a" stroke-width="1.1"/>
<line x1="547.57" y1="133.3" x2="547.57" y2="129.70" stroke="#1a1a1a" stroke-width="1.1"/>
<line x1="547.57" y1="2.5" x2="547.57" y2="6.10" stroke="#1a1a1a" stroke-width="1.1"/>
<text transform="translate(547.57,146.60) scale(0.9,1)" class="tk" text-anchor="middle">90</text>
<line x1="560.51" y1="133.3" x2="560.51" y2="131.30" stroke="#1a1a1a" stroke-width="1.1"/>
<line x1="560.51" y1="2.5" x2="560.51" y2="4.50" stroke="#1a1a1a" stroke-width="1.1"/>
<line x1="573.46" y1="133.3" x2="573.46" y2="129.70" stroke="#1a1a1a" stroke-width="1.1"/>
<line x1="573.46" y1="2.5" x2="573.46" y2="6.10" stroke="#1a1a1a" stroke-width="1.1"/>
<text transform="translate(573.46,146.60) scale(0.9,1)" class="tk" text-anchor="middle">91</text>
<line x1="586.40" y1="133.3" x2="586.40" y2="131.30" stroke="#1a1a1a" stroke-width="1.1"/>
<line x1="586.40" y1="2.5" x2="586.40" y2="4.50" stroke="#1a1a1a" stroke-width="1.1"/>
<line x1="599.34" y1="133.3" x2="599.34" y2="129.70" stroke="#1a1a1a" stroke-width="1.1"/>
<line x1="599.34" y1="2.5" x2="599.34" y2="6.10" stroke="#1a1a1a" stroke-width="1.1"/>
<text transform="translate(599.34,146.60) scale(0.9,1)" class="tk" text-anchor="middle">92</text>
<line x1="612.29" y1="133.3" x2="612.29" y2="131.30" stroke="#1a1a1a" stroke-width="1.1"/>
<line x1="612.29" y1="2.5" x2="612.29" y2="4.50" stroke="#1a1a1a" stroke-width="1.1"/>
<line x1="625.23" y1="133.3" x2="625.23" y2="129.70" stroke="#1a1a1a" stroke-width="1.1"/>
<line x1="625.23" y1="2.5" x2="625.23" y2="6.10" stroke="#1a1a1a" stroke-width="1.1"/>
<text transform="translate(625.23,146.60) scale(0.9,1)" class="tk" text-anchor="middle">93</text>
<line x1="638.17" y1="133.3" x2="638.17" y2="131.30" stroke="#1a1a1a" stroke-width="1.1"/>
<line x1="638.17" y1="2.5" x2="638.17" y2="4.50" stroke="#1a1a1a" stroke-width="1.1"/>
<line x1="651.11" y1="133.3" x2="651.11" y2="129.70" stroke="#1a1a1a" stroke-width="1.1"/>
<line x1="651.11" y1="2.5" x2="651.11" y2="6.10" stroke="#1a1a1a" stroke-width="1.1"/>
<text transform="translate(651.11,146.60) scale(0.9,1)" class="tk" text-anchor="middle">94</text>
<line x1="664.06" y1="133.3" x2="664.06" y2="131.30" stroke="#1a1a1a" stroke-width="1.1"/>
<line x1="664.06" y1="2.5" x2="664.06" y2="4.50" stroke="#1a1a1a" stroke-width="1.1"/>
<text transform="translate(677.00,146.60) scale(0.9,1)" class="tk" text-anchor="middle">95</text>
<text transform="translate(493.10,137.30) scale(0.9,1)" class="tk" text-anchor="end">200</text>
<line x1="495.8" y1="118.65" x2="497.80" y2="118.65" stroke="#1a1a1a" stroke-width="1.1"/>
<line x1="677.0" y1="118.65" x2="675.00" y2="118.65" stroke="#1a1a1a" stroke-width="1.1"/>
<line x1="495.8" y1="104.10" x2="499.40" y2="104.10" stroke="#1a1a1a" stroke-width="1.1"/>
<line x1="677.0" y1="104.10" x2="673.40" y2="104.10" stroke="#1a1a1a" stroke-width="1.1"/>
<text transform="translate(493.10,108.20) scale(0.9,1)" class="tk" text-anchor="end">300</text>
<line x1="495.8" y1="89.55" x2="497.80" y2="89.55" stroke="#1a1a1a" stroke-width="1.1"/>
<line x1="677.0" y1="89.55" x2="675.00" y2="89.55" stroke="#1a1a1a" stroke-width="1.1"/>
<line x1="495.8" y1="75.00" x2="499.40" y2="75.00" stroke="#1a1a1a" stroke-width="1.1"/>
<line x1="677.0" y1="75.00" x2="673.40" y2="75.00" stroke="#1a1a1a" stroke-width="1.1"/>
<text transform="translate(493.10,79.10) scale(0.9,1)" class="tk" text-anchor="end">400</text>
<line x1="495.8" y1="60.45" x2="497.80" y2="60.45" stroke="#1a1a1a" stroke-width="1.1"/>
<line x1="677.0" y1="60.45" x2="675.00" y2="60.45" stroke="#1a1a1a" stroke-width="1.1"/>
<line x1="495.8" y1="45.90" x2="499.40" y2="45.90" stroke="#1a1a1a" stroke-width="1.1"/>
<line x1="677.0" y1="45.90" x2="673.40" y2="45.90" stroke="#1a1a1a" stroke-width="1.1"/>
<text transform="translate(493.10,50.00) scale(0.9,1)" class="tk" text-anchor="end">500</text>
<line x1="495.8" y1="31.35" x2="497.80" y2="31.35" stroke="#1a1a1a" stroke-width="1.1"/>
<line x1="677.0" y1="31.35" x2="675.00" y2="31.35" stroke="#1a1a1a" stroke-width="1.1"/>
<line x1="495.8" y1="16.80" x2="499.40" y2="16.80" stroke="#1a1a1a" stroke-width="1.1"/>
<line x1="677.0" y1="16.80" x2="673.40" y2="16.80" stroke="#1a1a1a" stroke-width="1.1"/>
<text transform="translate(493.10,20.90) scale(0.9,1)" class="tk" text-anchor="end">600</text>
<path d="M524.90,119.55 L543.70,92.15 M550.05,81.97 L570.05,46.53 M576.84,36.69 L595.46,14.31 M604.43,12.82 L619.97,22.28 M631.07,24.83 L645.13,23.47" fill="none" stroke="#ff00ff" stroke-width="1.5"/>
<circle cx="521.5" cy="124.5" r="5.1" fill="url(#g0)"/>
<circle cx="547.1" cy="87.2" r="5.1" fill="url(#g1)"/>
<circle cx="573.0" cy="41.3" r="5.1" fill="url(#g2)"/>
<circle cx="599.3" cy="9.7" r="5.1" fill="url(#g3)"/>
<circle cx="625.1" cy="25.4" r="5.1" fill="url(#g4)"/>
<circle cx="651.1" cy="22.9" r="5.1" fill="url(#g5)"/>
<text transform="translate(474.2,67.5) rotate(-90)" class="ti" text-anchor="middle" font-style="italic">Q</text>
<text x="587.3" y="159" class="ti" text-anchor="middle"><tspan font-style="italic">Λ</tspan> (<tspan font-style="italic">μ</tspan>m)</text>
<text transform="translate(452.3,17.3) scale(1.08,1)" class="pl">(c)</text>
<rect x="267.5" y="163.4" width="181.40" height="130.70" fill="none" stroke="#1a1a1a" stroke-width="1.15"/>
<text transform="translate(267.50,307.50) scale(0.9,1)" class="tk" text-anchor="middle">21</text>
<line x1="280.46" y1="294.1" x2="280.46" y2="292.10" stroke="#1a1a1a" stroke-width="1.1"/>
<line x1="280.46" y1="163.4" x2="280.46" y2="165.40" stroke="#1a1a1a" stroke-width="1.1"/>
<line x1="293.41" y1="294.1" x2="293.41" y2="290.50" stroke="#1a1a1a" stroke-width="1.1"/>
<line x1="293.41" y1="163.4" x2="293.41" y2="167.00" stroke="#1a1a1a" stroke-width="1.1"/>
<text transform="translate(293.41,307.50) scale(0.9,1)" class="tk" text-anchor="middle">22</text>
<line x1="306.37" y1="294.1" x2="306.37" y2="292.10" stroke="#1a1a1a" stroke-width="1.1"/>
<line x1="306.37" y1="163.4" x2="306.37" y2="165.40" stroke="#1a1a1a" stroke-width="1.1"/>
<line x1="319.33" y1="294.1" x2="319.33" y2="290.50" stroke="#1a1a1a" stroke-width="1.1"/>
<line x1="319.33" y1="163.4" x2="319.33" y2="167.00" stroke="#1a1a1a" stroke-width="1.1"/>
<text transform="translate(319.33,307.50) scale(0.9,1)" class="tk" text-anchor="middle">23</text>
<line x1="332.29" y1="294.1" x2="332.29" y2="292.10" stroke="#1a1a1a" stroke-width="1.1"/>
<line x1="332.29" y1="163.4" x2="332.29" y2="165.40" stroke="#1a1a1a" stroke-width="1.1"/>
<line x1="345.24" y1="294.1" x2="345.24" y2="290.50" stroke="#1a1a1a" stroke-width="1.1"/>
<line x1="345.24" y1="163.4" x2="345.24" y2="167.00" stroke="#1a1a1a" stroke-width="1.1"/>
<text transform="translate(345.24,307.50) scale(0.9,1)" class="tk" text-anchor="middle">24</text>
<line x1="358.20" y1="294.1" x2="358.20" y2="292.10" stroke="#1a1a1a" stroke-width="1.1"/>
<line x1="358.20" y1="163.4" x2="358.20" y2="165.40" stroke="#1a1a1a" stroke-width="1.1"/>
<line x1="371.16" y1="294.1" x2="371.16" y2="290.50" stroke="#1a1a1a" stroke-width="1.1"/>
<line x1="371.16" y1="163.4" x2="371.16" y2="167.00" stroke="#1a1a1a" stroke-width="1.1"/>
<text transform="translate(371.16,307.50) scale(0.9,1)" class="tk" text-anchor="middle">25</text>
<line x1="384.11" y1="294.1" x2="384.11" y2="292.10" stroke="#1a1a1a" stroke-width="1.1"/>
<line x1="384.11" y1="163.4" x2="384.11" y2="165.40" stroke="#1a1a1a" stroke-width="1.1"/>
<line x1="397.07" y1="294.1" x2="397.07" y2="290.50" stroke="#1a1a1a" stroke-width="1.1"/>
<line x1="397.07" y1="163.4" x2="397.07" y2="167.00" stroke="#1a1a1a" stroke-width="1.1"/>
<text transform="translate(397.07,307.50) scale(0.9,1)" class="tk" text-anchor="middle">26</text>
<line x1="410.03" y1="294.1" x2="410.03" y2="292.10" stroke="#1a1a1a" stroke-width="1.1"/>
<line x1="410.03" y1="163.4" x2="410.03" y2="165.40" stroke="#1a1a1a" stroke-width="1.1"/>
<line x1="422.99" y1="294.1" x2="422.99" y2="290.50" stroke="#1a1a1a" stroke-width="1.1"/>
<line x1="422.99" y1="163.4" x2="422.99" y2="167.00" stroke="#1a1a1a" stroke-width="1.1"/>
<text transform="translate(422.99,307.50) scale(0.9,1)" class="tk" text-anchor="middle">27</text>
<line x1="435.94" y1="294.1" x2="435.94" y2="292.10" stroke="#1a1a1a" stroke-width="1.1"/>
<line x1="435.94" y1="163.4" x2="435.94" y2="165.40" stroke="#1a1a1a" stroke-width="1.1"/>
<text transform="translate(448.90,307.50) scale(0.9,1)" class="tk" text-anchor="middle">28</text>
<line x1="267.5" y1="261.90" x2="271.10" y2="261.90" stroke="#1a1a1a" stroke-width="1.1"/>
<line x1="448.9" y1="261.90" x2="445.30" y2="261.90" stroke="#1a1a1a" stroke-width="1.1"/>
<text transform="translate(264.00,266.00) scale(0.9,1)" class="tk" text-anchor="end">2.2</text>
<line x1="267.5" y1="228.90" x2="269.50" y2="228.90" stroke="#1a1a1a" stroke-width="1.1"/>
<line x1="448.9" y1="228.90" x2="446.90" y2="228.90" stroke="#1a1a1a" stroke-width="1.1"/>
<line x1="267.5" y1="195.90" x2="271.10" y2="195.90" stroke="#1a1a1a" stroke-width="1.1"/>
<line x1="448.9" y1="195.90" x2="445.30" y2="195.90" stroke="#1a1a1a" stroke-width="1.1"/>
<text transform="translate(264.00,200.00) scale(0.9,1)" class="tk" text-anchor="end">2.3</text>
<path d="M299.30,214.60 L313.20,214.60 M325.20,214.60 L339.10,214.60 M351.10,214.60 L365.00,214.60 M377.00,214.65 L390.80,214.75 M402.72,215.76 L416.88,218.04" fill="none" stroke="#ff00ff" stroke-width="1.5"/>
<circle cx="293.3" cy="214.6" r="5.1" fill="url(#g0)"/>
<circle cx="319.2" cy="214.6" r="5.1" fill="url(#g1)"/>
<circle cx="345.1" cy="214.6" r="5.1" fill="url(#g2)"/>
<circle cx="371.0" cy="214.6" r="5.1" fill="url(#g3)"/>
<circle cx="396.8" cy="214.8" r="5.1" fill="url(#g4)"/>
<circle cx="422.8" cy="219.0" r="5.1" fill="url(#g5)"/>
<line x1="268" y1="214.5" x2="448.4" y2="214.5" stroke="#3a3a3a" stroke-width="1" stroke-dasharray="1 1"/>
<text transform="translate(244.2,229.5) rotate(-90)" class="ti" text-anchor="middle"><tspan font-style="italic">f</tspan><tspan font-size="8.5" dy="2.5">0</tspan><tspan dy="-2.5"> (THz)</tspan></text>
<text x="358.8" y="319.9" class="ti" text-anchor="middle"><tspan font-style="italic">w</tspan> (<tspan font-style="italic">μ</tspan>m)</text>
<text transform="translate(234,175.6) scale(1.08,1)" class="pl">(e)</text>
<rect x="495.8" y="163.4" width="181.20" height="130.70" fill="none" stroke="#1a1a1a" stroke-width="1.15"/>
<text transform="translate(495.80,307.50) scale(0.9,1)" class="tk" text-anchor="middle">21</text>
<line x1="508.74" y1="294.1" x2="508.74" y2="292.10" stroke="#1a1a1a" stroke-width="1.1"/>
<line x1="508.74" y1="163.4" x2="508.74" y2="165.40" stroke="#1a1a1a" stroke-width="1.1"/>
<line x1="521.69" y1="294.1" x2="521.69" y2="290.50" stroke="#1a1a1a" stroke-width="1.1"/>
<line x1="521.69" y1="163.4" x2="521.69" y2="167.00" stroke="#1a1a1a" stroke-width="1.1"/>
<text transform="translate(521.69,307.50) scale(0.9,1)" class="tk" text-anchor="middle">22</text>
<line x1="534.63" y1="294.1" x2="534.63" y2="292.10" stroke="#1a1a1a" stroke-width="1.1"/>
<line x1="534.63" y1="163.4" x2="534.63" y2="165.40" stroke="#1a1a1a" stroke-width="1.1"/>
<line x1="547.57" y1="294.1" x2="547.57" y2="290.50" stroke="#1a1a1a" stroke-width="1.1"/>
<line x1="547.57" y1="163.4" x2="547.57" y2="167.00" stroke="#1a1a1a" stroke-width="1.1"/>
<text transform="translate(547.57,307.50) scale(0.9,1)" class="tk" text-anchor="middle">23</text>
<line x1="560.51" y1="294.1" x2="560.51" y2="292.10" stroke="#1a1a1a" stroke-width="1.1"/>
<line x1="560.51" y1="163.4" x2="560.51" y2="165.40" stroke="#1a1a1a" stroke-width="1.1"/>
<line x1="573.46" y1="294.1" x2="573.46" y2="290.50" stroke="#1a1a1a" stroke-width="1.1"/>
<line x1="573.46" y1="163.4" x2="573.46" y2="167.00" stroke="#1a1a1a" stroke-width="1.1"/>
<text transform="translate(573.46,307.50) scale(0.9,1)" class="tk" text-anchor="middle">24</text>
<line x1="586.40" y1="294.1" x2="586.40" y2="292.10" stroke="#1a1a1a" stroke-width="1.1"/>
<line x1="586.40" y1="163.4" x2="586.40" y2="165.40" stroke="#1a1a1a" stroke-width="1.1"/>
<line x1="599.34" y1="294.1" x2="599.34" y2="290.50" stroke="#1a1a1a" stroke-width="1.1"/>
<line x1="599.34" y1="163.4" x2="599.34" y2="167.00" stroke="#1a1a1a" stroke-width="1.1"/>
<text transform="translate(599.34,307.50) scale(0.9,1)" class="tk" text-anchor="middle">25</text>
<line x1="612.29" y1="294.1" x2="612.29" y2="292.10" stroke="#1a1a1a" stroke-width="1.1"/>
<line x1="612.29" y1="163.4" x2="612.29" y2="165.40" stroke="#1a1a1a" stroke-width="1.1"/>
<line x1="625.23" y1="294.1" x2="625.23" y2="290.50" stroke="#1a1a1a" stroke-width="1.1"/>
<line x1="625.23" y1="163.4" x2="625.23" y2="167.00" stroke="#1a1a1a" stroke-width="1.1"/>
<text transform="translate(625.23,307.50) scale(0.9,1)" class="tk" text-anchor="middle">26</text>
<line x1="638.17" y1="294.1" x2="638.17" y2="292.10" stroke="#1a1a1a" stroke-width="1.1"/>
<line x1="638.17" y1="163.4" x2="638.17" y2="165.40" stroke="#1a1a1a" stroke-width="1.1"/>
<line x1="651.11" y1="294.1" x2="651.11" y2="290.50" stroke="#1a1a1a" stroke-width="1.1"/>
<line x1="651.11" y1="163.4" x2="651.11" y2="167.00" stroke="#1a1a1a" stroke-width="1.1"/>
<text transform="translate(651.11,307.50) scale(0.9,1)" class="tk" text-anchor="middle">27</text>
<line x1="664.06" y1="294.1" x2="664.06" y2="292.10" stroke="#1a1a1a" stroke-width="1.1"/>
<line x1="664.06" y1="163.4" x2="664.06" y2="165.40" stroke="#1a1a1a" stroke-width="1.1"/>
<text transform="translate(677.00,307.50) scale(0.9,1)" class="tk" text-anchor="middle">28</text>
<line x1="495.8" y1="282.50" x2="499.40" y2="282.50" stroke="#1a1a1a" stroke-width="1.1"/>
<line x1="677.0" y1="282.50" x2="673.40" y2="282.50" stroke="#1a1a1a" stroke-width="1.1"/>
<text transform="translate(493.10,286.60) scale(0.9,1)" class="tk" text-anchor="end">100</text>
<line x1="495.8" y1="271.08" x2="497.80" y2="271.08" stroke="#1a1a1a" stroke-width="1.1"/>
<line x1="677.0" y1="271.08" x2="675.00" y2="271.08" stroke="#1a1a1a" stroke-width="1.1"/>
<line x1="495.8" y1="259.66" x2="499.40" y2="259.66" stroke="#1a1a1a" stroke-width="1.1"/>
<line x1="677.0" y1="259.66" x2="673.40" y2="259.66" stroke="#1a1a1a" stroke-width="1.1"/>
<text transform="translate(493.10,263.76) scale(0.9,1)" class="tk" text-anchor="end">200</text>
<line x1="495.8" y1="248.24" x2="497.80" y2="248.24" stroke="#1a1a1a" stroke-width="1.1"/>
<line x1="677.0" y1="248.24" x2="675.00" y2="248.24" stroke="#1a1a1a" stroke-width="1.1"/>
<line x1="495.8" y1="236.82" x2="499.40" y2="236.82" stroke="#1a1a1a" stroke-width="1.1"/>
<line x1="677.0" y1="236.82" x2="673.40" y2="236.82" stroke="#1a1a1a" stroke-width="1.1"/>
<text transform="translate(493.10,240.92) scale(0.9,1)" class="tk" text-anchor="end">300</text>
<line x1="495.8" y1="225.40" x2="497.80" y2="225.40" stroke="#1a1a1a" stroke-width="1.1"/>
<line x1="677.0" y1="225.40" x2="675.00" y2="225.40" stroke="#1a1a1a" stroke-width="1.1"/>
<line x1="495.8" y1="213.98" x2="499.40" y2="213.98" stroke="#1a1a1a" stroke-width="1.1"/>
<line x1="677.0" y1="213.98" x2="673.40" y2="213.98" stroke="#1a1a1a" stroke-width="1.1"/>
<text transform="translate(493.10,218.08) scale(0.9,1)" class="tk" text-anchor="end">400</text>
<line x1="495.8" y1="202.56" x2="497.80" y2="202.56" stroke="#1a1a1a" stroke-width="1.1"/>
<line x1="677.0" y1="202.56" x2="675.00" y2="202.56" stroke="#1a1a1a" stroke-width="1.1"/>
<line x1="495.8" y1="191.14" x2="499.40" y2="191.14" stroke="#1a1a1a" stroke-width="1.1"/>
<line x1="677.0" y1="191.14" x2="673.40" y2="191.14" stroke="#1a1a1a" stroke-width="1.1"/>
<text transform="translate(493.10,195.24) scale(0.9,1)" class="tk" text-anchor="end">500</text>
<line x1="495.8" y1="179.72" x2="497.80" y2="179.72" stroke="#1a1a1a" stroke-width="1.1"/>
<line x1="677.0" y1="179.72" x2="675.00" y2="179.72" stroke="#1a1a1a" stroke-width="1.1"/>
<line x1="495.8" y1="168.30" x2="499.40" y2="168.30" stroke="#1a1a1a" stroke-width="1.1"/>
<line x1="677.0" y1="168.30" x2="673.40" y2="168.30" stroke="#1a1a1a" stroke-width="1.1"/>
<text transform="translate(493.10,172.40) scale(0.9,1)" class="tk" text-anchor="end">600</text>
<path d="M524.31,259.37 L544.19,226.63 M550.08,216.18 L570.52,177.12 M578.48,174.83 L593.92,183.87 M601.07,192.57 L623.43,256.93 M629.75,266.73 L646.75,282.87" fill="none" stroke="#ff00ff" stroke-width="1.5"/>
<circle cx="521.2" cy="264.5" r="5.1" fill="url(#g0)"/>
<circle cx="547.3" cy="221.5" r="5.1" fill="url(#g1)"/>
<circle cx="573.3" cy="171.8" r="5.1" fill="url(#g2)"/>
<circle cx="599.1" cy="186.9" r="5.1" fill="url(#g3)"/>
<circle cx="625.4" cy="262.6" r="5.1" fill="url(#g4)"/>
<circle cx="651.1" cy="287.0" r="5.1" fill="url(#g5)"/>
<text transform="translate(474.2,228.4) rotate(-90)" class="ti" text-anchor="middle" font-style="italic">Q</text>
<text x="587.3" y="319.9" class="ti" text-anchor="middle"><tspan font-style="italic">w</tspan> (<tspan font-style="italic">μ</tspan>m)</text>
<text transform="translate(452.3,175.6) scale(1.08,1)" class="pl">(f)</text>
</svg>
</body></html>
